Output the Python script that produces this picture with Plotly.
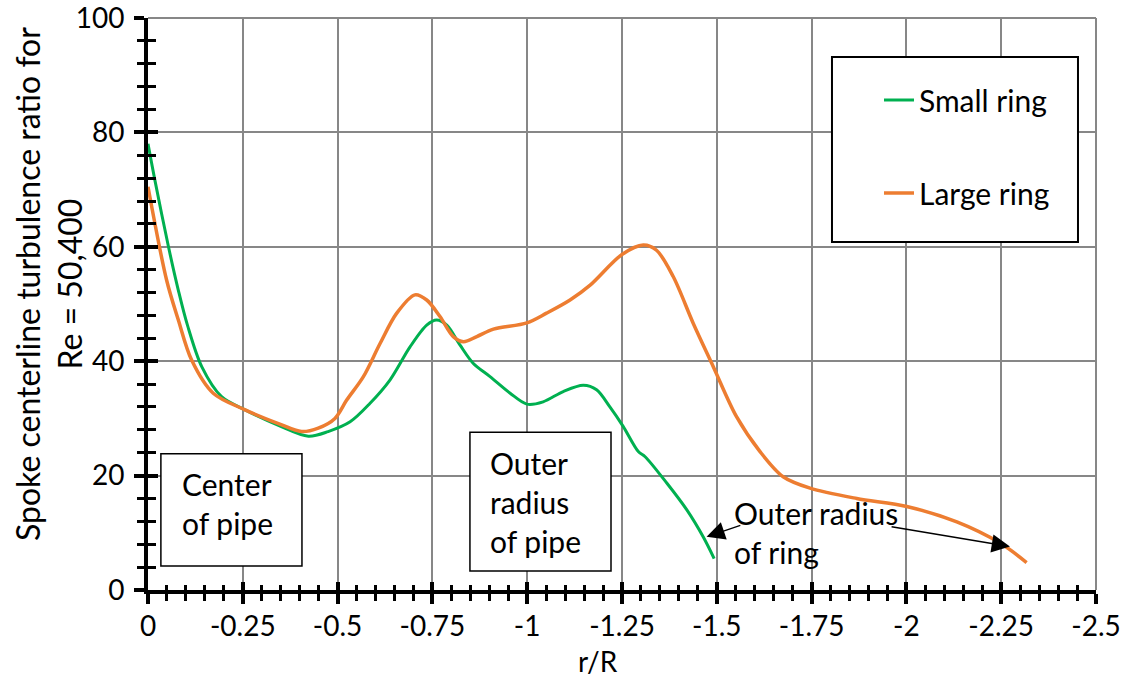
import plotly.graph_objects as go

# ---- data ----
small_r = [0.000, -0.018, -0.054, -0.080, -0.104, -0.142, -0.194, -0.256, -0.344, -0.423,
           -0.475, -0.533, -0.585, -0.638, -0.691, -0.735, -0.761, -0.788, -0.823, -0.858,
           -0.902, -0.955, -0.999, -1.042, -1.095, -1.148, -1.183, -1.218, -1.253, -1.293,
           -1.311, -1.368, -1.421, -1.464, -1.493]
small_ratio = [78.0, 71.7, 60.0, 52.4, 46.3, 39.0, 33.8, 31.5, 28.8, 26.9,
               27.7, 29.4, 32.6, 36.7, 42.5, 46.3, 47.2, 46.3, 42.8, 39.6,
               37.3, 34.4, 32.5, 32.9, 34.7, 35.8, 35.0, 32.0, 28.6, 24.2,
               23.3, 18.7, 14.0, 9.3, 5.5]

large_r = [0.000, -0.049, -0.080, -0.115, -0.172, -0.256, -0.344, -0.405, -0.449, -0.493,
           -0.524, -0.568, -0.612, -0.656, -0.704, -0.735, -0.770, -0.805, -0.832, -0.867,
           -0.911, -0.999, -1.051, -1.113, -1.166, -1.249, -1.306, -1.341, -1.385, -1.438,
           -1.491, -1.552, -1.614, -1.675, -1.746, -1.869, -2.001, -2.133, -2.247, -2.317]
large_ratio = [70.5, 54.2, 47.2, 40.2, 34.4, 31.5, 29.1, 27.7, 28.3, 30.0,
               33.2, 37.3, 43.1, 48.4, 51.6, 50.7, 47.8, 44.3, 43.4, 44.3,
               45.6, 46.7, 48.4, 50.7, 53.3, 58.6, 60.3, 59.4, 54.8, 46.6,
               39.0, 30.3, 24.2, 19.8, 17.8, 16.0, 14.6, 11.9, 8.2, 4.8]

series_names = ["Small ring", "Large ring"]

x_tick_vals = [0, -0.25, -0.5, -0.75, -1, -1.25, -1.5, -1.75, -2, -2.25, -2.5]
x_tick_labels = ["0", "-0.25", "-0.5", "-0.75", "-1", "-1.25", "-1.5", "-1.75", "-2", "-2.25", "-2.5"]
y_tick_vals = [0, 20, 40, 60, 80, 100]
y_tick_labels = ["0", "20", "40", "60", "80", "100"]

x_title = "r/R"
y_title = "Spoke centerline turbulence ratio for<br>Re = 50,400"

# ---- style ----
FONT = "Lato"
FS = 30
TFS = 28
GREEN = "#00b050"
ORANGE = "#ed7d31"
GRID = "#878787"

fig = go.Figure()
fig.add_trace(go.Scatter(x=small_r, y=small_ratio, mode="lines", name=series_names[0],
                         legendgroup="a", line=dict(color=GREEN, width=3, shape="spline", smoothing=0.9),
                         cliponaxis=False))
fig.add_trace(go.Scatter(x=large_r, y=large_ratio, mode="lines", name=series_names[1],
                         legendgroup="b", line=dict(color=ORANGE, width=3.5, shape="spline", smoothing=0.9),
                         cliponaxis=False))
# helper (empty) trace to carry the overlaid tick axes that give crossing ticks
fig.add_trace(go.Scatter(x=[], y=[], xaxis="x2", yaxis="y2", showlegend=False, hoverinfo="skip"))

xr = [0, -2.5]
yr = [0, 100]

fig.update_layout(
    width=1128, height=678, autosize=False,
    margin=dict(l=148, r=32, t=18, b=88, autoexpand=False),
    plot_bgcolor="white", paper_bgcolor="white",
    font=dict(family=FONT, size=FS, color="black"),
    xaxis=dict(range=xr, tickmode="array", tickvals=x_tick_vals, ticktext=x_tick_labels,
               ticks="outside", ticklen=10, tickwidth=4, tickcolor="black",
               showline=True, linecolor="black", linewidth=4, automargin=False,
               showgrid=True, gridcolor=GRID, gridwidth=2, zeroline=False,
               ticklabelstandoff=-2, ticklabeloverflow="allow", tickfont=dict(family=FONT, size=TFS),
               minor=dict(tickmode="linear", tick0=0, dtick=0.05, ticks="outside",
                          ticklen=7, tickwidth=3, tickcolor="black", showgrid=False)),
    yaxis=dict(range=yr, tickmode="array", tickvals=y_tick_vals, ticktext=y_tick_labels,
               ticks="outside", ticklen=10, tickwidth=4, tickcolor="black",
               showline=True, linecolor="black", linewidth=4, automargin=False,
               showgrid=True, gridcolor=GRID, gridwidth=2, zeroline=False,
               ticklabelstandoff=4, ticklabeloverflow="allow", tickfont=dict(family=FONT, size=TFS),
               minor=dict(tickmode="linear", tick0=0, dtick=4, ticks="outside",
                          ticklen=7, tickwidth=3, tickcolor="black", showgrid=False)),
    xaxis2=dict(range=xr, overlaying="x", anchor="y2", tickmode="array", tickvals=x_tick_vals,
                ticks="inside", ticklen=8, tickwidth=4, tickcolor="black", automargin=False,
                showticklabels=False, showline=False, showgrid=False, zeroline=False,
                minor=dict(tickmode="linear", tick0=0, dtick=0.05, ticks="inside",
                           ticklen=5, tickwidth=3, tickcolor="black", showgrid=False)),
    yaxis2=dict(range=yr, overlaying="y", anchor="x2", tickmode="array", tickvals=y_tick_vals,
                ticks="inside", ticklen=10, tickwidth=4, tickcolor="black", automargin=False,
                showticklabels=False, showline=False, showgrid=False, zeroline=False,
                minor=dict(tickmode="linear", tick0=0, dtick=4, ticks="inside",
                           ticklen=8, tickwidth=3, tickcolor="black", showgrid=False)),
    showlegend=True,
    legend=dict(x=0.7711, y=0.9021, xanchor="left", yanchor="top",
                bgcolor="rgba(0,0,0,0)", borderwidth=0,
                traceorder="grouped", tracegroupgap=51,
                font=dict(family=FONT, size=FS, color="black")),
)

# top / right frame lines in grid colour (gridlines at the range ends are not drawn by plotly)
fig.add_shape(type="line", xref="paper", yref="paper", x0=0, x1=1, y0=1, y1=1,
              line=dict(color=GRID, width=2), layer="below")
fig.add_shape(type="line", xref="paper", yref="paper", x0=1, x1=1, y0=0, y1=1,
              line=dict(color=GRID, width=2), layer="below")

# legend frame
fig.add_shape(type="rect", xref="paper", yref="paper", x0=0.7215, x1=0.981, y0=0.6084, y1=0.9318,
              line=dict(color="black", width=2), fillcolor="white", layer="above")

# text boxes
fig.add_shape(type="rect", xref="x", yref="y", x0=-0.034, x1=-0.406, y0=4.2, y1=23.8,
              line=dict(color="black", width=1.5), fillcolor="white", layer="above")
fig.add_shape(type="rect", xref="x", yref="y", x0=-0.849, x1=-1.221, y0=3.3, y1=27.6,
              line=dict(color="black", width=1.5), fillcolor="white", layer="above")

fig.add_annotation(x=-0.087, y=15.1, xref="x", yref="y", text="Center<br>of pipe",
                   showarrow=False, xanchor="left", yanchor="middle", align="left",
                   borderpad=0, font=dict(family=FONT, size=FS))
fig.add_annotation(x=-0.8993, y=15.4, xref="x", yref="y", text="Outer<br>radius<br>of pipe",
                   showarrow=False, xanchor="left", yanchor="middle", align="left",
                   borderpad=0, font=dict(family=FONT, size=FS))
fig.add_annotation(x=-1.5427, y=10.05, xref="x", yref="y", text="Outer radius<br>of ring",
                   showarrow=False, xanchor="left", yanchor="middle", align="left",
                   borderpad=0, font=dict(family=FONT, size=FS))

# arrows
fig.add_annotation(x=-1.473, y=9.3, ax=-1.566, ay=11.4, xref="x", yref="y", axref="x", ayref="y",
                   text="", showarrow=True, arrowhead=2, arrowsize=2.8, arrowwidth=1.3,
                   arrowcolor="black", standoff=0, startstandoff=0)
fig.add_annotation(x=-2.273, y=7.6, ax=-1.957, ay=11.1, xref="x", yref="y", axref="x", ayref="y",
                   text="", showarrow=True, arrowhead=2, arrowsize=2.8, arrowwidth=1.3,
                   arrowcolor="black", standoff=0, startstandoff=0)

# axis titles
fig.add_annotation(x=(598 - 148) / 948, y=(590 - 661) / 572, xref="paper", yref="paper",
                   text=x_title, showarrow=False, xanchor="center", yanchor="middle",
                   borderpad=0, font=dict(family=FONT, size=28))
fig.add_annotation(x=(48 - 148) / 948, y=(590 - 284) / 572, xref="paper", yref="paper",
                   text=y_title, showarrow=False, textangle=-90, xanchor="center", yanchor="middle",
                   font=dict(family=FONT, size=32))

fig.write_html("out.html")
